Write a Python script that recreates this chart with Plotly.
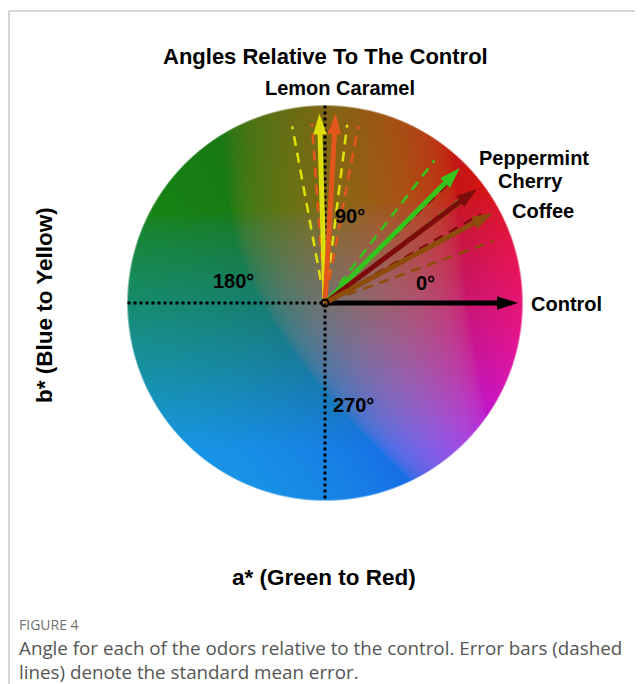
import numpy as np
import plotly.graph_objects as go
import zlib, struct, base64

# ---------------- data ----------------
odors = ["Control", "Lemon", "Caramel", "Peppermint", "Cherry", "Coffee"]
angle_deg = [0.0, 91.7, 86.8, 45.0, 36.9, 28.2]      # mean angle relative to control
sem_deg = [0.0, 8.8, 7.4, 7.5, 7.2, 8.0]             # standard mean error (deg)
vec_len = [97.7, 96.0, 96.2, 96.6, 96.2, 96.4]       # vector length (disk radius = 100)
odor_colors = ["#000000", "#dede0a", "#e3561c", "#35c41c", "#7e0b0b", "#8e4c0c"]

axis_labels = ["0°", "90°", "180°", "270°"]

OFF = 8                       # page body margin of the html
W, H = 643 - OFF, 684 - OFF
CX, CY, SCALE = 325, 303, 1.975   # disk centre (screen px) and px per unit
R = 100.0

def px(x):
    return (x - OFF) / W

def py(y):
    return 1 - (y - OFF) / H

# ---------------- colour disk (CIELAB a*b* plane) ----------------
def lab_to_srgb(L, a, b):
    fy = (L + 16) / 116
    fx = fy + a / 500
    fz = fy - b / 200
    d = 6 / 29
    finv = lambda t: np.where(t > d, t ** 3, 3 * d * d * (t - 4 / 29))
    X = 0.95047 * finv(fx)
    Y = finv(fy)
    Z = 1.08883 * finv(fz)
    r = 3.2406 * X - 1.5372 * Y - 0.4986 * Z
    g = -0.9689 * X + 1.8758 * Y + 0.0415 * Z
    bl = 0.0557 * X - 0.2040 * Y + 1.0570 * Z
    lin = np.clip(np.stack([r, g, bl], -1), 0, 1)
    return np.where(lin <= 0.0031308, 12.92 * lin, 1.055 * lin ** (1 / 2.4) - 0.055)

N = 800
coords = -R + (np.arange(N) + 0.5) * (2 * R / N)
gx, gy = np.meshgrid(coords, -coords)
rr = np.hypot(gx, gy)
th = np.arctan2(gy, gx)
rn = np.clip(rr / R, 0, 1)
Cmax = 105
chroma = Cmax * rn
Lval = 47.5 - 5.0 * np.sin(th) * rn
rgb = lab_to_srgb(Lval, chroma * np.cos(th), chroma * np.sin(th))
gray = lab_to_srgb(np.array(50.0), np.array(2.0), np.array(4.0))
rgb = rgb * 0.82 + gray * 0.18
alpha = np.clip((R - rr) / (2 * R / N) + 0.5, 0, 1)
rgba = np.concatenate([rgb, alpha[..., None]], -1)
img = (rgba * 255).round().astype(np.uint8)

def png_bytes(a):
    h, w, _ = a.shape
    raw = b"".join(b"\x00" + a[i].tobytes() for i in range(h))
    def chunk(t, dat):
        c = struct.pack(">I", len(dat)) + t + dat
        return c + struct.pack(">I", zlib.crc32(t + dat) & 0xffffffff)
    return (b"\x89PNG\r\n\x1a\n" + chunk(b"IHDR", struct.pack(">IIBBBBB", w, h, 8, 6, 0, 0, 0))
            + chunk(b"IDAT", zlib.compress(raw, 9)) + chunk(b"IEND", b""))

src = "data:image/png;base64," + base64.b64encode(png_bytes(img)).decode()

fig = go.Figure()

# dotted reference axes
fig.add_trace(go.Scatter(x=[-R, 0], y=[0, 0], mode="lines",
                         line=dict(color="black", width=3, dash="dot"), hoverinfo="skip"))
fig.add_trace(go.Scatter(x=[0, 0], y=[R, -R], mode="lines",
                         line=dict(color="black", width=3, dash="dot"), hoverinfo="skip"))

# error (SEM) dashed lines
for name, a, s, c in zip(odors, angle_deg, sem_deg, odor_colors):
    if s <= 0:
        continue
    for sign in (1, -1):
        t = np.deg2rad(a + sign * s)
        rs = np.array([12.0, 91.0])
        fig.add_trace(go.Scatter(x=rs * np.cos(t), y=rs * np.sin(t), mode="lines",
                                 line=dict(color=c, width=2.6, dash="10px,7px"),
                                 hoverinfo="skip"))

# mean vectors (arrows)
for name, a, L, c in zip(odors, angle_deg, vec_len, odor_colors):
    t = np.deg2rad(a)
    shaft = np.array([0.0, L - 6.0])
    fig.add_trace(go.Scatter(x=shaft * np.cos(t), y=shaft * np.sin(t), mode="lines",
                             line=dict(color=c, width=5), hoverinfo="skip", name=name))
    fig.add_trace(go.Scatter(x=[L * np.cos(t)], y=[L * np.sin(t)], mode="markers",
                             marker=dict(symbol="arrow", size=22, angle=90 - a, color=c,
                                         line=dict(width=0)),
                             hoverinfo="skip"))

# centre point
fig.add_trace(go.Scatter(x=[0], y=[0], mode="markers",
                         marker=dict(symbol="circle-open", size=7, color="black",
                                     line=dict(width=2)), hoverinfo="skip"))

BOLD = "Liberation Sans, Arial, Helvetica, sans-serif"
ann = []
def label(text, x, y, size=20, **kw):
    ann.append(dict(text="<b>%s</b>" % text, x=px(x), y=py(y), xref="paper", yref="paper",
                    xanchor="center", yanchor="middle",
                    showarrow=False, font=dict(family=BOLD, size=size, color="black"), **kw))

label("Angles Relative To The Control", 325, 57, 22)
label("Lemon Caramel", 340, 88, 20)
label("Peppermint", 534, 158, 20)
label("Cherry", 530, 181, 20)
label("Coffee", 543, 211, 20)
label("Control", 566, 304, 20)
label(axis_labels[0], 425, 283, 20)
label(axis_labels[1], 350, 216, 20)
label(axis_labels[2], 233, 281, 20)
label(axis_labels[3], 353, 405, 20)
label("a* (Green to Red)", 324, 577, 22.5)
label("b* (Blue to Yellow)", 44, 305, 22.5, textangle=-90)

CAP = "Open Sans, Noto Sans, sans-serif"
def cap(text, y, size, color):
    ann.append(dict(text=text, x=px(18), y=py(y), xref="paper", yref="paper",
                    xanchor="left", yanchor="middle", showarrow=False, borderpad=0,
                    align="left", font=dict(family=CAP, size=size, color=color)))

cap("FIGURE 4", 624, 14, "#707070")
cap("Angle for each of the odors relative to the control. Error bars (dashed<br>"
    "lines) denote the standard mean error.", 660, 18.8, "#555555")

shapes = [
    dict(type="line", xref="paper", yref="paper", x0=px(9), y0=py(11), x1=1.0, y1=py(11),
         line=dict(color="#c8c8c8", width=1.5)),
    dict(type="line", xref="paper", yref="paper", x0=px(9), y0=py(11), x1=px(9), y1=0,
         line=dict(color="#c8c8c8", width=1.5)),
]

half = 225 / SCALE
fig.update_layout(
    width=W, height=H, margin=dict(l=0, r=0, t=0, b=0),
    paper_bgcolor="white", plot_bgcolor="rgba(0,0,0,0)", showlegend=False,
    xaxis=dict(domain=[px(CX - 225), px(CX + 225)], range=[-half, half], visible=False,
               fixedrange=True),
    yaxis=dict(domain=[py(CY + 225), py(CY - 225)], range=[-half, half], visible=False,
               fixedrange=True),
    images=[dict(source=src, xref="x", yref="y", x=-R, y=R, sizex=2 * R, sizey=2 * R,
                 xanchor="left", yanchor="top", sizing="stretch", layer="below")],
    annotations=ann, shapes=shapes,
)

fig.write_html("out.html")
